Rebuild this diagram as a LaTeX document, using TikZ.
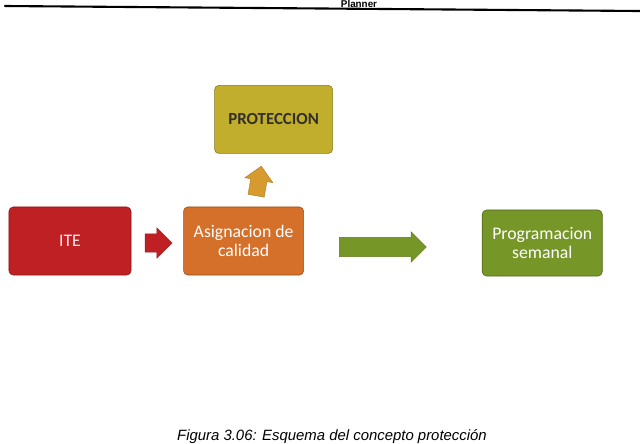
\documentclass[tikz,border=0pt]{standalone}
\usepackage{fontspec}
\setmainfont{Carlito}
\newfontfamily\capfont{Liberation Sans}
\usetikzlibrary{positioning, shapes.arrows}
\definecolor{itered}{RGB}{190,32,36}
\definecolor{asigorange}{RGB}{212,112,42}
\definecolor{protolive}{RGB}{192,174,44}
\definecolor{proggreen}{RGB}{118,150,40}
\definecolor{upgold}{RGB}{214,154,46}
\begin{document}
\begin{tikzpicture}[
      x=0.025cm, y=-0.025cm,
      node distance=1.3cm and 1.3cm,
      blk/.style={draw=#1!70!black, fill=#1, rounded corners=3pt, align=center,
      font=\fontsize{12.6}{13.5}\selectfont, text=white, minimum width=3.0cm,
      minimum height=1.7cm, inner sep=2pt, line width=0.4pt},
      blkarrow/.style={single arrow, draw=#1!80!black, fill=#1, inner xsep=0pt,
      single arrow head indent=0pt, line width=0.3pt}
    ]
    \useasboundingbox (0,0) rectangle (640,443);

    % page header
    \draw[line width=1.5pt, line cap=round] (5,6) -- (640,11);
    \node[font=\capfont\bfseries\fontsize{7}{8}\selectfont, anchor=base]
    (hdr) at (359,7) {Planner};

    % boxes
    \node[blk=itered, minimum width=3.05cm, text=red!8] (ite) at (70,241) {ITE};
    \node[blk=asigorange, right=1.3cm of ite] (asig) {Asignacion de\\calidad};
    \node[blk=protolive, above=1.325cm of asig, xshift=0.75cm,
    minimum width=2.95cm, text=black!85!olive,
    font=\bfseries\fontsize{12}{13}\selectfont] (prot) {PROTECCION};
    \node[blk=proggreen, right=4.45cm of asig, minimum height=1.65cm,
    yshift=-0.05cm] (prog) {Programacion\\semanal};

    % block arrows
    \node[blkarrow=itered, minimum height=0.675cm, inner ysep=0.225cm,
    single arrow head extend=0.15cm] (redarr) at (154,243) {};
    \node[blkarrow=proggreen, minimum height=2.175cm, inner ysep=0.235cm,
    single arrow head extend=0.14cm] (grnarr) at (378,247) {};
    \node[blkarrow=upgold, minimum height=0.75cm, inner ysep=0.2cm,
    single arrow head extend=0.15cm, rotate=80] (uparr) at (258,185) {};

    % caption
    \node[font=\capfont\itshape\fontsize{10.6}{12}\selectfont, anchor=base]
    (cap) at (332,440) {Figura 3.06: Esquema del concepto protección};
  \end{tikzpicture}
\end{document}
